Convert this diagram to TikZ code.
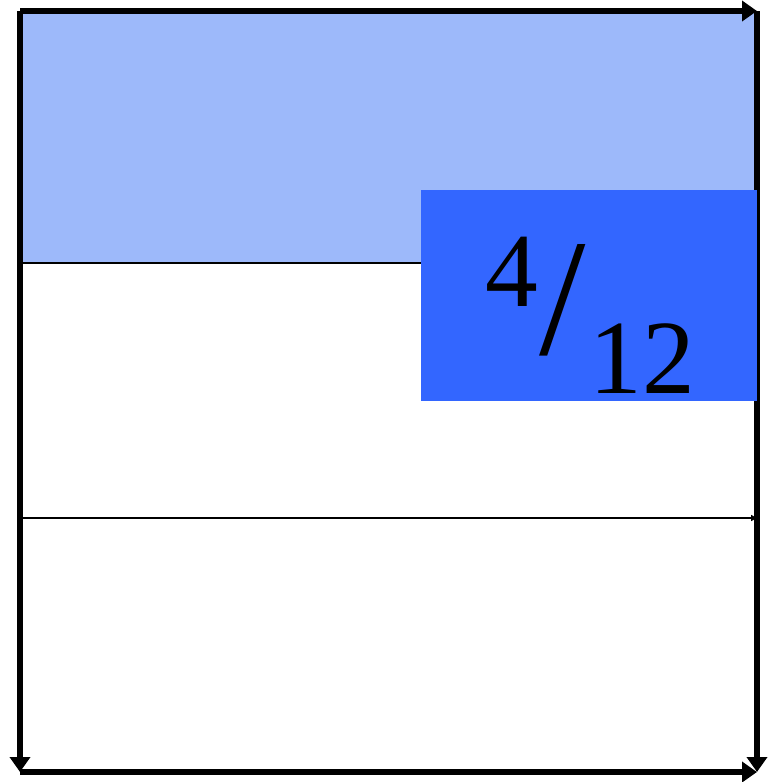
\documentclass[tikz,border=0pt]{standalone}
\usepackage{fontspec}
\setmainfont{Liberation Serif}
\usetikzlibrary{arrows.meta}
\definecolor{lightband}{HTML}{9DB9FA}
\definecolor{darkbox}{HTML}{3366FF}
\begin{document}
\begin{tikzpicture}[
    x=0.02cm,y=-0.02cm,
    edge/.style={line width=3.3pt, -{Triangle[length=0.3cm,width=0.4cm]}},
    divider/.style={line width=1.1pt},
    fracbox/.style={fill=darkbox, minimum width=6.72cm, minimum height=4.22cm, inner sep=0pt},
    digits/.style={font=\fontsize{60}{72}\selectfont, inner sep=0pt, anchor=base}
]
    \useasboundingbox (0,0) rectangle (773,782);

    \coordinate (tl) at (20,11);
    \coordinate (tr) at (757,11);
    \coordinate (bl) at (20,772);
    \coordinate (br) at (757,772);
    \coordinate (ml) at (20,263);
    \coordinate (mr) at (421,263);
    \coordinate (ll) at (20,518);
    \coordinate (lr) at (757,518);

    \fill[lightband] (tl) rectangle (757,263);
    \draw[divider] (ml) -- (mr);
    \draw[divider, -{Triangle[length=0.12cm,width=0.12cm]}] (ll) -- (lr);

    \draw[edge] (tl) -- (tr);
    \draw[edge] (tl) -- (bl);
    \draw[edge] (bl) -- (br);
    \draw[edge] (tr) -- (br);

    % box sits over the right edge
    \node[fracbox] (frac) at (589,295.5) {};
    \node[digits] (num) at (511.5,306) {4};
    \node[font=\fontsize{95}{100}\selectfont, inner sep=0pt] (slash) at (563,300) {/};
    \node[digits] (den) at (642,393) {12};
\end{tikzpicture}
\end{document}
